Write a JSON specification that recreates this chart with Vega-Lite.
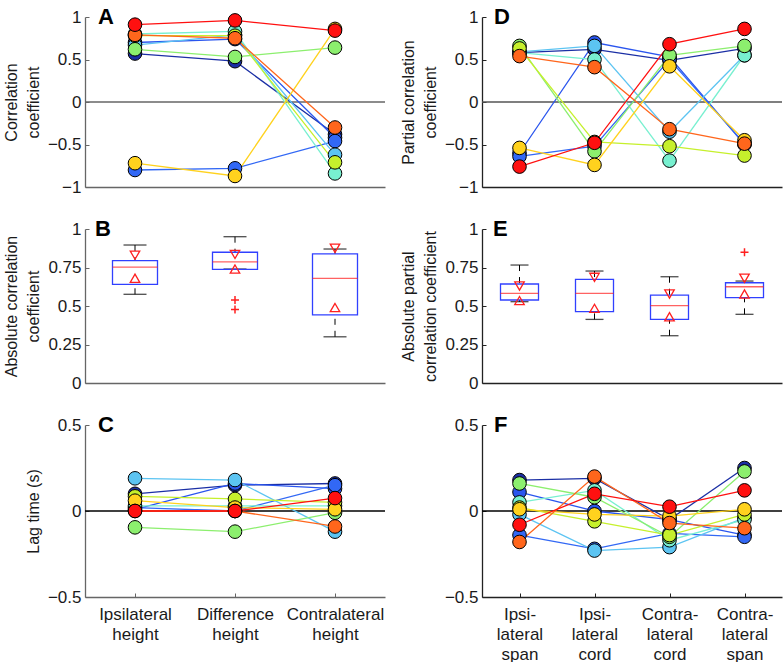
{
  "$schema": "https://vega.github.io/schema/vega-lite/v6.json",
  "padding": {"left": 3, "top": 6, "right": 0, "bottom": 0},
  "bounds": "flush",
  "align": "each",
  "columns": 2,
  "spacing": {"row": 42, "column": 97},
  "datasets": {
    "corr": [
      {"s": "s1", "Ipsilateral height": 0.57, "Difference height": 0.48, "Contralateral height": -0.38},
      {"s": "s2", "Ipsilateral height": 0.70, "Difference height": 0.74, "Contralateral height": -0.42},
      {"s": "s3", "Ipsilateral height": -0.80, "Difference height": -0.78, "Contralateral height": -0.46},
      {"s": "s4", "Ipsilateral height": 0.67, "Difference height": 0.79, "Contralateral height": -0.62},
      {"s": "s5", "Ipsilateral height": 0.80, "Difference height": 0.83, "Contralateral height": -0.84},
      {"s": "s6", "Ipsilateral height": 0.62, "Difference height": 0.53, "Contralateral height": 0.64},
      {"s": "s7", "Ipsilateral height": 0.78, "Difference height": 0.78, "Contralateral height": -0.71},
      {"s": "s8", "Ipsilateral height": -0.72, "Difference height": -0.87, "Contralateral height": 0.86},
      {"s": "s9", "Ipsilateral height": 0.79, "Difference height": 0.75, "Contralateral height": -0.30},
      {"s": "s10", "Ipsilateral height": 0.91, "Difference height": 0.96, "Contralateral height": 0.84}
    ],
    "lag": [
      {"s": "s1", "Ipsilateral height": 0.10, "Difference height": 0.15, "Contralateral height": 0.16},
      {"s": "s2", "Ipsilateral height": 0.01, "Difference height": 0.16, "Contralateral height": 0.13},
      {"s": "s3", "Ipsilateral height": 0.02, "Difference height": 0.00, "Contralateral height": 0.15},
      {"s": "s4", "Ipsilateral height": 0.19, "Difference height": 0.18, "Contralateral height": -0.12},
      {"s": "s5", "Ipsilateral height": 0.03, "Difference height": 0.03, "Contralateral height": 0.03},
      {"s": "s6", "Ipsilateral height": -0.095, "Difference height": -0.12, "Contralateral height": -0.01},
      {"s": "s7", "Ipsilateral height": 0.085, "Difference height": 0.07, "Contralateral height": 0.05},
      {"s": "s8", "Ipsilateral height": 0.06, "Difference height": 0.02, "Contralateral height": 0.01},
      {"s": "s9", "Ipsilateral height": 0.0, "Difference height": 0.0, "Contralateral height": -0.09},
      {"s": "s10", "Ipsilateral height": 0.0, "Difference height": 0.0, "Contralateral height": 0.075}
    ],
    "pcorr": [
      {"s": "s1", "Ipsi-lateral span": 0.58, "Ipsi-lateral cord": 0.62, "Contra-lateral cord": 0.49, "Contra-lateral span": 0.63},
      {"s": "s2", "Ipsi-lateral span": -0.60, "Ipsi-lateral cord": 0.70, "Contra-lateral cord": 0.53, "Contra-lateral span": -0.50},
      {"s": "s3", "Ipsi-lateral span": -0.64, "Ipsi-lateral cord": -0.52, "Contra-lateral cord": 0.50, "Contra-lateral span": -0.49},
      {"s": "s4", "Ipsi-lateral span": 0.59, "Ipsi-lateral cord": 0.66, "Contra-lateral cord": -0.35, "Contra-lateral span": 0.55},
      {"s": "s5", "Ipsi-lateral span": 0.58, "Ipsi-lateral cord": 0.50, "Contra-lateral cord": -0.69, "Contra-lateral span": 0.55},
      {"s": "s6", "Ipsi-lateral span": 0.66, "Ipsi-lateral cord": -0.58, "Contra-lateral cord": 0.55, "Contra-lateral span": 0.66},
      {"s": "s7", "Ipsi-lateral span": 0.63, "Ipsi-lateral cord": -0.47, "Contra-lateral cord": -0.52, "Contra-lateral span": -0.63},
      {"s": "s8", "Ipsi-lateral span": -0.54, "Ipsi-lateral cord": -0.74, "Contra-lateral cord": 0.42, "Contra-lateral span": -0.45},
      {"s": "s9", "Ipsi-lateral span": 0.54, "Ipsi-lateral cord": 0.41, "Contra-lateral cord": -0.32, "Contra-lateral span": -0.49},
      {"s": "s10", "Ipsi-lateral span": -0.76, "Ipsi-lateral cord": -0.48, "Contra-lateral cord": 0.68, "Contra-lateral span": 0.86}
    ],
    "plag": [
      {"s": "s1", "Ipsi-lateral span": 0.18, "Ipsi-lateral cord": 0.19, "Contra-lateral cord": -0.05, "Contra-lateral span": 0.25},
      {"s": "s2", "Ipsi-lateral span": 0.11, "Ipsi-lateral cord": 0.00, "Contra-lateral cord": -0.05, "Contra-lateral span": -0.14},
      {"s": "s3", "Ipsi-lateral span": -0.14, "Ipsi-lateral cord": -0.22, "Contra-lateral cord": -0.13, "Contra-lateral span": -0.15},
      {"s": "s4", "Ipsi-lateral span": -0.02, "Ipsi-lateral cord": -0.23, "Contra-lateral cord": -0.21, "Contra-lateral span": -0.04},
      {"s": "s5", "Ipsi-lateral span": 0.05, "Ipsi-lateral cord": 0.12, "Contra-lateral cord": -0.17, "Contra-lateral span": -0.05},
      {"s": "s6", "Ipsi-lateral span": 0.16, "Ipsi-lateral cord": 0.08, "Contra-lateral cord": -0.15, "Contra-lateral span": 0.23},
      {"s": "s7", "Ipsi-lateral span": 0.02, "Ipsi-lateral cord": -0.06, "Contra-lateral cord": -0.14, "Contra-lateral span": -0.02},
      {"s": "s8", "Ipsi-lateral span": 0.01, "Ipsi-lateral cord": -0.02, "Contra-lateral cord": -0.03, "Contra-lateral span": 0.01},
      {"s": "s9", "Ipsi-lateral span": -0.18, "Ipsi-lateral cord": 0.20, "Contra-lateral cord": -0.07, "Contra-lateral span": -0.10},
      {"s": "s10", "Ipsi-lateral span": -0.08, "Ipsi-lateral cord": 0.10, "Contra-lateral cord": 0.025, "Contra-lateral span": 0.12}
    ],
    "boxB": [
      {"m": "Ipsilateral height", "lo": 0.576, "q1": 0.64, "med": 0.753, "q3": 0.794, "hi": 0.896},
      {"m": "Difference height", "lo": 0.74, "q1": 0.738, "med": 0.786, "q3": 0.849, "hi": 0.95},
      {"m": "Contralateral height", "lo": 0.30, "q1": 0.442, "med": 0.68, "q3": 0.838, "hi": 0.87}
    ],
    "triB": [
      {"m": "Ipsilateral height", "v": 0.83, "d": "down"},
      {"m": "Ipsilateral height", "v": 0.68, "d": "up"},
      {"m": "Difference height", "v": 0.835, "d": "down"},
      {"m": "Difference height", "v": 0.74, "d": "up"},
      {"m": "Contralateral height", "v": 0.875, "d": "down"},
      {"m": "Contralateral height", "v": 0.49, "d": "up"}
    ],
    "outB": [
      {"m": "Difference height", "v": 0.539},
      {"m": "Difference height", "v": 0.478}
    ],
    "boxE": [
      {"m": "Ipsi-lateral span", "lo": 0.528, "q1": 0.539, "med": 0.582, "q3": 0.643, "hi": 0.766},
      {"m": "Ipsi-lateral cord", "lo": 0.413, "q1": 0.463, "med": 0.582, "q3": 0.673, "hi": 0.727},
      {"m": "Contra-lateral cord", "lo": 0.307, "q1": 0.413, "med": 0.502, "q3": 0.571, "hi": 0.69},
      {"m": "Contra-lateral span", "lo": 0.446, "q1": 0.554, "med": 0.625, "q3": 0.651, "hi": 0.662}
    ],
    "triE": [
      {"m": "Ipsi-lateral span", "v": 0.63, "d": "down"},
      {"m": "Ipsi-lateral span", "v": 0.535, "d": "up"},
      {"m": "Ipsi-lateral cord", "v": 0.686, "d": "down"},
      {"m": "Ipsi-lateral cord", "v": 0.485, "d": "up"},
      {"m": "Contra-lateral cord", "v": 0.578, "d": "down"},
      {"m": "Contra-lateral cord", "v": 0.43, "d": "up"},
      {"m": "Contra-lateral span", "v": 0.68, "d": "down"},
      {"m": "Contra-lateral span", "v": 0.578, "d": "up"}
    ],
    "outE": [
      {"m": "Contra-lateral span", "v": 0.849}
    ]
  },
  "concat": [
    {
      "width": 300, "height": 170,
      "title": {"text": "A"},
      "layer": [
        {"data": {"values": [{}]}, "mark": {"type": "rule", "color": "#666", "strokeWidth": 1.3}, "encoding": {"y": {"datum": 0, "type": "quantitative"}}},
        {"data": {"name": "corr"}, "transform": [{"fold": ["Ipsilateral height", "Difference height", "Contralateral height"], "as": ["m", "v"]}],
         "mark": {"type": "line", "strokeWidth": 1.3},
         "encoding": {
           "x": {"field": "m", "type": "nominal", "scale": {"type": "point", "padding": 0.5, "domain": ["Ipsilateral height", "Difference height", "Contralateral height"]}, "axis": {"title": null, "labels": false, "ticks": false, "domainColor": "#666"}},
           "y": {"field": "v", "type": "quantitative", "scale": {"domain": [-1, 1], "nice": false, "zero": false}, "axis": {"title": ["Correlation", "coefficient"], "values": [-1, -0.5, 0, 0.5, 1], "tickCount": 5, "format": ".2~f", "labelOverlap": false, "domainColor": "#666", "tickColor": "#666"}},
           "color": {"field": "s", "type": "nominal", "scale": {"domain": ["s1","s2","s3","s4","s5","s6","s7","s8","s9","s10"], "range": ["#1b2fa5","#2a55ee","#3268f5","#5cc4f2","#78f0d0","#8cef6e","#c6f02c","#ffd21e","#ff661c","#ff1010"]}, "legend": null},
           "order": {"value": null}
         }},
        {"data": {"name": "corr"}, "transform": [{"fold": ["Ipsilateral height", "Difference height", "Contralateral height"], "as": ["m", "v"]}],
         "mark": {"type": "point", "filled": true, "size": 185, "stroke": "black", "strokeWidth": 1, "opacity": 1},
         "encoding": {
           "x": {"field": "m", "type": "nominal"},
           "y": {"field": "v", "type": "quantitative"},
           "fill": {"field": "s", "type": "nominal", "scale": {"domain": ["s1","s2","s3","s4","s5","s6","s7","s8","s9","s10"], "range": ["#1b2fa5","#2a55ee","#3268f5","#5cc4f2","#78f0d0","#8cef6e","#c6f02c","#ffd21e","#ff661c","#ff1010"]}, "legend": null}
         }}
      ]
    },
    {
      "width": 300, "height": 170,
      "title": {"text": "D", "dx": 12},
      "layer": [
        {"data": {"values": [{}]}, "mark": {"type": "rule", "color": "#555", "strokeWidth": 1.3}, "encoding": {"y": {"datum": 0, "type": "quantitative"}}},
        {"data": {"name": "pcorr"}, "transform": [{"fold": ["Ipsi-lateral span", "Ipsi-lateral cord", "Contra-lateral cord", "Contra-lateral span"], "as": ["m", "v"]}],
         "mark": {"type": "line", "strokeWidth": 1.3},
         "encoding": {
           "x": {"field": "m", "type": "nominal", "scale": {"type": "point", "padding": 0.5, "domain": ["Ipsi-lateral span", "Ipsi-lateral cord", "Contra-lateral cord", "Contra-lateral span"]}, "axis": {"title": null, "labels": false, "ticks": false}},
           "y": {"field": "v", "type": "quantitative", "scale": {"domain": [-1, 1], "nice": false, "zero": false}, "axis": {"title": ["Partial correlation", "coefficient"], "values": [-1, -0.5, 0, 0.5, 1], "tickCount": 5, "format": ".2~f", "labelOverlap": false}},
           "color": {"field": "s", "type": "nominal", "scale": {"domain": ["s1","s2","s3","s4","s5","s6","s7","s8","s9","s10"], "range": ["#1b2fa5","#2a55ee","#3268f5","#5cc4f2","#78f0d0","#8cef6e","#c6f02c","#ffd21e","#ff661c","#ff1010"]}, "legend": null},
           "order": {"value": null}
         }},
        {"data": {"name": "pcorr"}, "transform": [{"fold": ["Ipsi-lateral span", "Ipsi-lateral cord", "Contra-lateral cord", "Contra-lateral span"], "as": ["m", "v"]}],
         "mark": {"type": "point", "filled": true, "size": 185, "stroke": "black", "strokeWidth": 1, "opacity": 1},
         "encoding": {
           "x": {"field": "m", "type": "nominal"},
           "y": {"field": "v", "type": "quantitative"},
           "fill": {"field": "s", "type": "nominal", "scale": {"domain": ["s1","s2","s3","s4","s5","s6","s7","s8","s9","s10"], "range": ["#1b2fa5","#2a55ee","#3268f5","#5cc4f2","#78f0d0","#8cef6e","#c6f02c","#ffd21e","#ff661c","#ff1010"]}, "legend": null}
         }}
      ]
    },
    {
      "width": 300, "height": 154,
      "title": {"text": "B", "dx": 10},
      "encoding": {
        "x": {"field": "m", "type": "nominal", "scale": {"type": "point", "padding": 0.5, "domain": ["Ipsilateral height", "Difference height", "Contralateral height"]}, "axis": {"title": null, "labels": false, "ticks": false, "domainColor": "#666"}}
      },
      "layer": [
        {"data": {"name": "boxB"}, "mark": {"type": "rule", "color": "black", "strokeWidth": 1, "strokeDash": [6, 6]},
         "encoding": {"y": {"field": "hi", "type": "quantitative", "scale": {"domain": [0, 1], "nice": false}, "axis": {"title": ["Absolute correlation", "coefficient"], "values": [0, 0.25, 0.5, 0.75, 1], "tickCount": 5, "format": ".2~f", "labelOverlap": false, "domainColor": "#666", "tickColor": "#666"}}, "y2": {"field": "q3"}}},
        {"data": {"name": "boxB"}, "mark": {"type": "rule", "color": "black", "strokeWidth": 1, "strokeDash": [6, 6]},
         "encoding": {"y": {"field": "lo", "type": "quantitative"}, "y2": {"field": "q1"}}},
        {"data": {"name": "boxB"}, "mark": {"type": "tick", "color": "black", "size": 23, "thickness": 1.3},
         "encoding": {"y": {"field": "hi", "type": "quantitative"}}},
        {"data": {"name": "boxB"}, "mark": {"type": "tick", "color": "black", "size": 23, "thickness": 1.3},
         "encoding": {"y": {"field": "lo", "type": "quantitative"}}},
        {"data": {"name": "boxB"}, "mark": {"type": "bar", "width": 45, "fill": "white", "fillOpacity": 0, "stroke": "#3040ff", "strokeWidth": 1.3},
         "encoding": {"y": {"field": "q3", "type": "quantitative"}, "y2": {"field": "q1"}}},
        {"data": {"name": "boxB"}, "mark": {"type": "tick", "color": "#ff2020", "size": 45, "thickness": 1.3},
         "encoding": {"y": {"field": "med", "type": "quantitative"}}},
        {"data": {"name": "triB"}, "mark": {"type": "point", "filled": false, "color": "#ff2020", "size": 90, "strokeWidth": 1.3, "opacity": 1},
         "encoding": {"y": {"field": "v", "type": "quantitative"}, "shape": {"field": "d", "type": "nominal", "scale": {"domain": ["up", "down"], "range": ["triangle-up", "triangle-down"]}, "legend": null}}},
        {"data": {"name": "outB"}, "mark": {"type": "point", "filled": false, "color": "#ff2020", "shape": "M-1,0H1M0,-1V1", "size": 64, "strokeWidth": 1.5, "opacity": 1},
         "encoding": {"y": {"field": "v", "type": "quantitative"}}}
      ]
    },
    {
      "width": 300, "height": 154,
      "title": {"text": "E", "dx": 11},
      "encoding": {
        "x": {"field": "m", "type": "nominal", "scale": {"type": "point", "padding": 0.5, "domain": ["Ipsi-lateral span", "Ipsi-lateral cord", "Contra-lateral cord", "Contra-lateral span"]}, "axis": {"title": null, "labels": false, "ticks": false}}
      },
      "layer": [
        {"data": {"name": "boxE"}, "mark": {"type": "rule", "color": "black", "strokeWidth": 1, "strokeDash": [6, 6]},
         "encoding": {"y": {"field": "hi", "type": "quantitative", "scale": {"domain": [0, 1], "nice": false}, "axis": {"title": ["Absolute partial", "correlation coefficient"], "values": [0, 0.25, 0.5, 0.75, 1], "tickCount": 5, "format": ".2~f", "labelOverlap": false}}, "y2": {"field": "q3"}}},
        {"data": {"name": "boxE"}, "mark": {"type": "rule", "color": "black", "strokeWidth": 1, "strokeDash": [6, 6]},
         "encoding": {"y": {"field": "lo", "type": "quantitative"}, "y2": {"field": "q1"}}},
        {"data": {"name": "boxE"}, "mark": {"type": "tick", "color": "black", "size": 18, "thickness": 1.3},
         "encoding": {"y": {"field": "hi", "type": "quantitative"}}},
        {"data": {"name": "boxE"}, "mark": {"type": "tick", "color": "black", "size": 18, "thickness": 1.3},
         "encoding": {"y": {"field": "lo", "type": "quantitative"}}},
        {"data": {"name": "boxE"}, "mark": {"type": "bar", "width": 38, "fill": "white", "fillOpacity": 0, "stroke": "#3040ff", "strokeWidth": 1.3},
         "encoding": {"y": {"field": "q3", "type": "quantitative"}, "y2": {"field": "q1"}}},
        {"data": {"name": "boxE"}, "mark": {"type": "tick", "color": "#ff2020", "size": 38, "thickness": 1.3},
         "encoding": {"y": {"field": "med", "type": "quantitative"}}},
        {"data": {"name": "triE"}, "mark": {"type": "point", "filled": false, "color": "#ff2020", "size": 90, "strokeWidth": 1.3, "opacity": 1},
         "encoding": {"y": {"field": "v", "type": "quantitative"}, "shape": {"field": "d", "type": "nominal", "scale": {"domain": ["up", "down"], "range": ["triangle-up", "triangle-down"]}, "legend": null}}},
        {"data": {"name": "outE"}, "mark": {"type": "point", "filled": false, "color": "#ff2020", "shape": "M-1,0H1M0,-1V1", "size": 64, "strokeWidth": 1.5, "opacity": 1},
         "encoding": {"y": {"field": "v", "type": "quantitative"}}}
      ]
    },
    {
      "width": 300, "height": 172,
      "title": {"text": "C"},
      "layer": [
        {"data": {"values": [{}]}, "mark": {"type": "rule", "color": "black", "strokeWidth": 1.3}, "encoding": {"y": {"datum": 0, "type": "quantitative"}}},
        {"data": {"name": "lag"}, "transform": [{"fold": ["Ipsilateral height", "Difference height", "Contralateral height"], "as": ["m", "v"]}],
         "mark": {"type": "line", "strokeWidth": 1.3},
         "encoding": {
           "x": {"field": "m", "type": "nominal", "scale": {"type": "point", "padding": 0.5, "domain": ["Ipsilateral height", "Difference height", "Contralateral height"]}, "axis": {"title": null, "labelExpr": "split(replace(datum.label, '-', '- '), ' ')", "labelAngle": 0, "labelLineHeight": 20, "labelPadding": 13, "labelBaseline": "top", "tickSize": -4, "domainColor": "#666", "tickColor": "#666"}},
           "y": {"field": "v", "type": "quantitative", "scale": {"domain": [-0.5, 0.5], "nice": false, "zero": false}, "axis": {"title": "Lag time (s)", "values": [-0.5, 0, 0.5], "tickCount": 5, "format": ".2~f", "labelOverlap": false, "domainColor": "#666", "tickColor": "#666"}},
           "color": {"field": "s", "type": "nominal", "scale": {"domain": ["s1","s2","s3","s4","s5","s6","s7","s8","s9","s10"], "range": ["#1b2fa5","#2a55ee","#3268f5","#5cc4f2","#78f0d0","#8cef6e","#c6f02c","#ffd21e","#ff661c","#ff1010"]}, "legend": null},
           "order": {"value": null}
         }},
        {"data": {"name": "lag"}, "transform": [{"fold": ["Ipsilateral height", "Difference height", "Contralateral height"], "as": ["m", "v"]}],
         "mark": {"type": "point", "filled": true, "size": 185, "stroke": "black", "strokeWidth": 1, "opacity": 1},
         "encoding": {
           "x": {"field": "m", "type": "nominal"},
           "y": {"field": "v", "type": "quantitative"},
           "fill": {"field": "s", "type": "nominal", "scale": {"domain": ["s1","s2","s3","s4","s5","s6","s7","s8","s9","s10"], "range": ["#1b2fa5","#2a55ee","#3268f5","#5cc4f2","#78f0d0","#8cef6e","#c6f02c","#ffd21e","#ff661c","#ff1010"]}, "legend": null}
         }}
      ]
    },
    {
      "width": 300, "height": 172,
      "title": {"text": "F", "dx": 12},
      "layer": [
        {"data": {"values": [{}]}, "mark": {"type": "rule", "color": "black", "strokeWidth": 1.3}, "encoding": {"y": {"datum": 0, "type": "quantitative"}}},
        {"data": {"name": "plag"}, "transform": [{"fold": ["Ipsi-lateral span", "Ipsi-lateral cord", "Contra-lateral cord", "Contra-lateral span"], "as": ["m", "v"]}],
         "mark": {"type": "line", "strokeWidth": 1.3},
         "encoding": {
           "x": {"field": "m", "type": "nominal", "scale": {"type": "point", "padding": 0.5, "domain": ["Ipsi-lateral span", "Ipsi-lateral cord", "Contra-lateral cord", "Contra-lateral span"]}, "axis": {"title": null, "labelExpr": "split(replace(datum.label, '-', '- '), ' ')", "labelAngle": 0, "labelLineHeight": 20, "labelPadding": 13, "labelBaseline": "top", "tickSize": -4}},
           "y": {"field": "v", "type": "quantitative", "scale": {"domain": [-0.5, 0.5], "nice": false, "zero": false}, "axis": {"title": null, "values": [-0.5, 0, 0.5], "tickCount": 5, "format": ".2~f", "labelOverlap": false}},
           "color": {"field": "s", "type": "nominal", "scale": {"domain": ["s1","s2","s3","s4","s5","s6","s7","s8","s9","s10"], "range": ["#1b2fa5","#2a55ee","#3268f5","#5cc4f2","#78f0d0","#8cef6e","#c6f02c","#ffd21e","#ff661c","#ff1010"]}, "legend": null},
           "order": {"value": null}
         }},
        {"data": {"name": "plag"}, "transform": [{"fold": ["Ipsi-lateral span", "Ipsi-lateral cord", "Contra-lateral cord", "Contra-lateral span"], "as": ["m", "v"]}],
         "mark": {"type": "point", "filled": true, "size": 185, "stroke": "black", "strokeWidth": 1, "opacity": 1},
         "encoding": {
           "x": {"field": "m", "type": "nominal"},
           "y": {"field": "v", "type": "quantitative"},
           "fill": {"field": "s", "type": "nominal", "scale": {"domain": ["s1","s2","s3","s4","s5","s6","s7","s8","s9","s10"], "range": ["#1b2fa5","#2a55ee","#3268f5","#5cc4f2","#78f0d0","#8cef6e","#c6f02c","#ffd21e","#ff661c","#ff1010"]}, "legend": null}
         }}
      ]
    }
  ],
  "config": {
    "font": "Liberation Sans",
    "view": {"stroke": null},
    "axis": {"labelFontSize": 17, "titleFontSize": 16, "titleFontWeight": "normal", "labelColor": "#1a1a1a", "titleColor": "#1a1a1a", "grid": false, "domainColor": "#222", "tickColor": "#222", "domainWidth": 1.3, "tickSize": -4, "labelPadding": 8, "titlePadding": 6, "titleLineHeight": 22, "labelOverlap": false},
    "title": {"anchor": "start", "frame": "group", "fontSize": 22, "fontWeight": "bold", "color": "black", "baseline": "middle", "offset": -21, "dx": 13}
  }
}
